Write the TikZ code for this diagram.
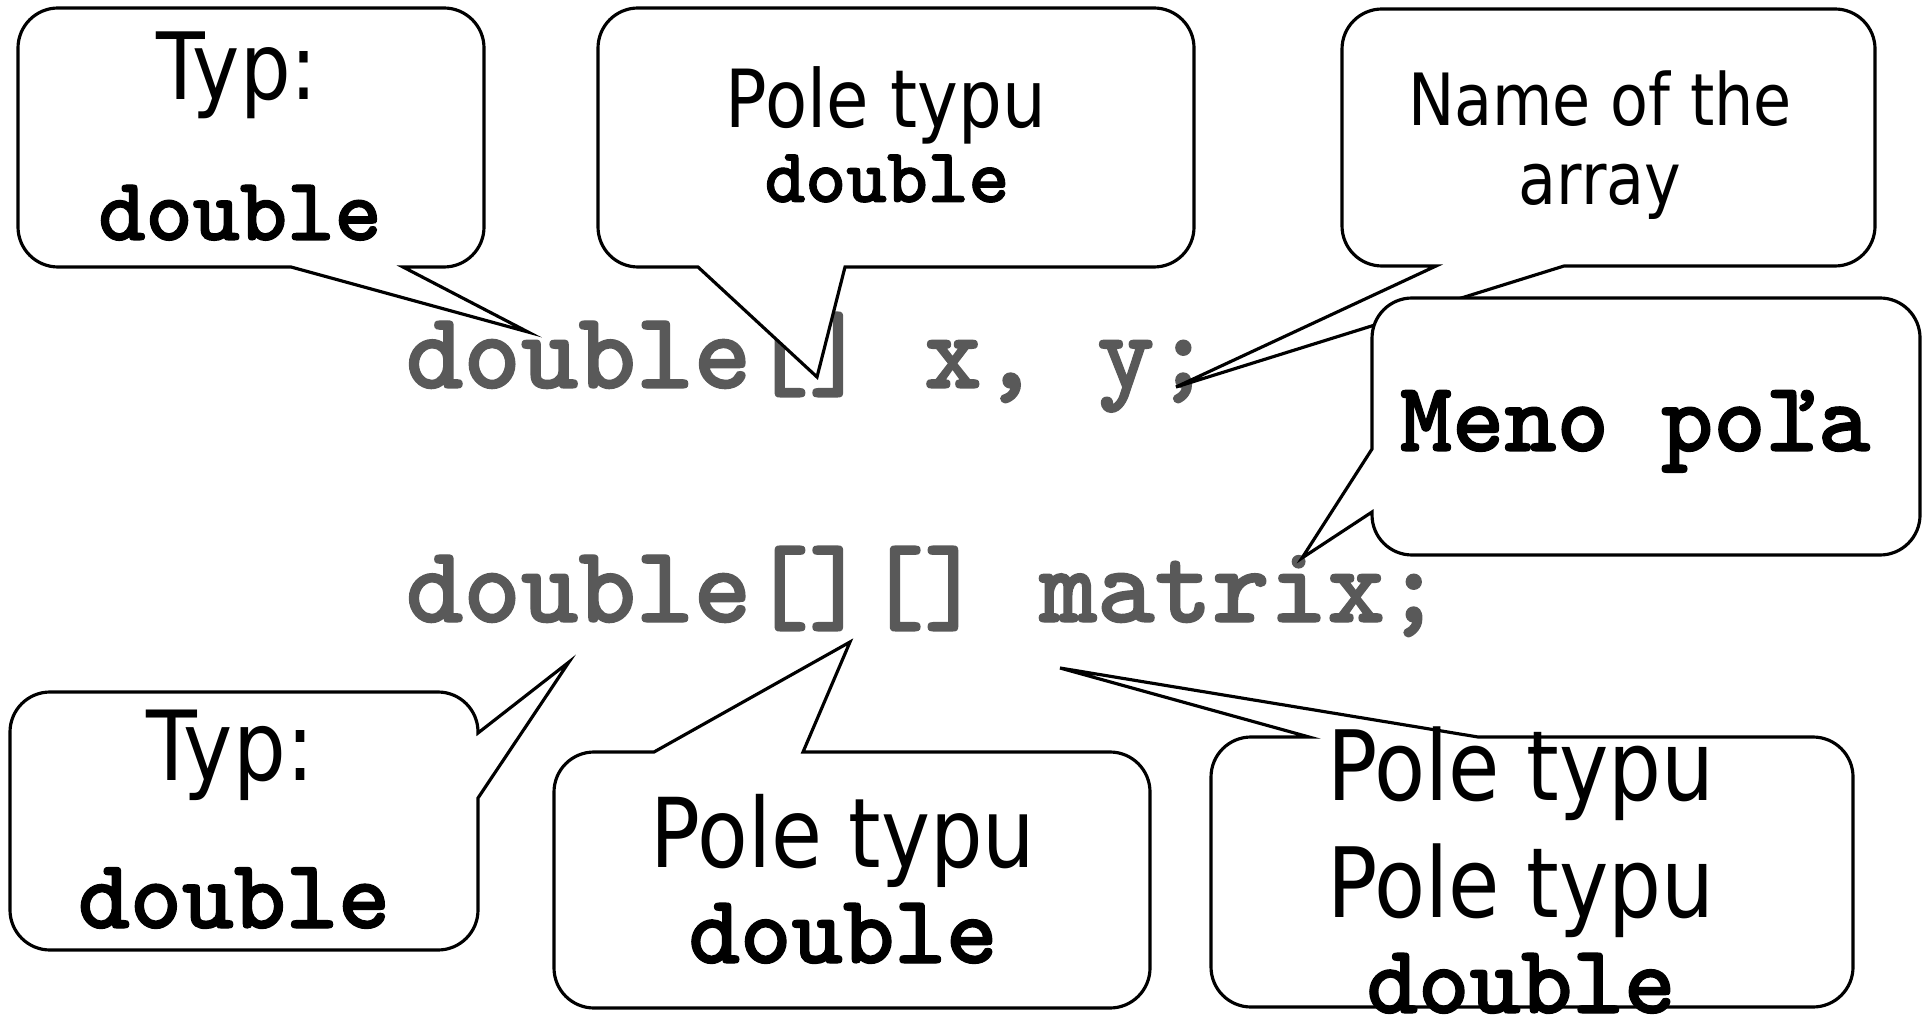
\documentclass[tikz,border=0pt]{standalone}
\usepackage{fontspec}
\setmainfont{DejaVu Sans}[FakeStretch=0.86]
\newfontfamily\codefont{lmmonolt10-bold.otf}[FakeBold=1.2]
\definecolor{codegray}{RGB}{89,89,89}

\begin{document}
\begin{tikzpicture}[x=0.01cm, y=-0.01cm,
  callout/.style={draw=black, fill=white, line width=0.9pt, line join=miter},
  sans/.style={inner sep=0pt, anchor=base, font=\fontsize{#1}{#1}\selectfont},
  mono/.style={inner sep=0pt, anchor=base, font=\fontsize{#1}{#1}\selectfont\codefont},
  code/.style={inner sep=0pt, anchor=base west, text=codegray, font=\fontsize{31.2pt}{32pt}\selectfont\codefont}]
% Corner radius of the callouts
\def\rc{0.4cm}

\useasboundingbox (0,0) rectangle (1928,1016);

% The two declarations
\node[code] (decl1) at (405,388) {double[] x, y;};
\node[code] (decl2) at (405,622) {double[][] matrix;};

% Pointer tips
\coordinate (tipA) at (528,332);
\coordinate (tipB) at (817,377);
\coordinate (tipC) at (1176,387);
\coordinate (tipD) at (1302,558);
\coordinate (tipE) at (569,662);
\coordinate (tipF) at (850,642);
\coordinate (tipG) at (1060,668);

% Top row of callouts
\draw[callout] (250,8) [rounded corners=\rc] -- (484,8) -- (484,267) [sharp corners] -- (403,267) -- (tipA) -- (291,267) [rounded corners=\rc] -- (18,267) -- (18,8) -- cycle;
\node[sans=26.4pt] (typTop) at (237,100) {Typ:};
\node[mono=25.6pt] (typTopCode) at (240,240) {double};

\draw[callout] (900,8) [rounded corners=\rc] -- (1194,8) -- (1194,267) [sharp corners] -- (845,267) -- (tipB) -- (698,267) [rounded corners=\rc] -- (598,267) -- (598,8) -- cycle;
\node[sans=22.8pt] (poleTop) at (886,128) {Pole typu};
\node[mono=22.1pt] (poleTopCode) at (887,202) {double};

\draw[callout] (1600,9) [rounded corners=\rc] -- (1875,9) -- (1875,266) [sharp corners] -- (1564,266) -- (tipC) -- (1436,266) [rounded corners=\rc] -- (1342,266) -- (1342,9) -- cycle;
\node[sans=20.5pt] (nameTop) at (1600,126) {Name of the};
\node[sans=20.5pt] (nameTopB) at (1600,205) {array};

\draw[callout] (1640,298) [rounded corners=\rc] -- (1920,298) -- (1920,555) -- (1372,555) [sharp corners] -- (1372,512) -- (tipD) -- (1372,449) [rounded corners=\rc] -- (1372,298) -- cycle;
\node[mono=28.3pt] (meno) at (1635,451) {Meno poľa};

% Bottom row of callouts
\draw[callout] (250,692) [rounded corners=\rc] -- (478,692) [sharp corners] -- (478,733) -- (tipE) -- (478,798) [rounded corners=\rc] -- (478,950) -- (10,950) -- (10,692) -- cycle;
\node[sans=27.5pt] (typBot) at (230,780) {Typ:};
\node[mono=28.2pt] (typBotCode) at (234,928) {double};

\draw[callout] (554,880) [rounded corners=\rc] -- (554,752) [sharp corners] -- (654,752) -- (tipF) -- (803,752) [rounded corners=\rc] -- (1150,752) -- (1150,1008) -- (554,1008) -- cycle;
\node[sans=27.4pt] (poleBot) at (843,867) {Pole typu};
\node[mono=27.9pt] (poleBotCode) at (843,963) {double};

\draw[callout] (1211,870) [rounded corners=\rc] -- (1211,737) [sharp corners] -- (1309,737) -- (tipG) -- (1478,737) [rounded corners=\rc] -- (1853,737) -- (1853,1007) -- (1211,1007) -- cycle;
\node[sans=27.6pt] (poleTwoA) at (1521,800) {Pole typu};
\node[sans=27.6pt] (poleTwoB) at (1521,917) {Pole typu};
\node[mono=27.9pt] (poleTwoCode) at (1521,1013) {double};
\end{tikzpicture}
\end{document}
